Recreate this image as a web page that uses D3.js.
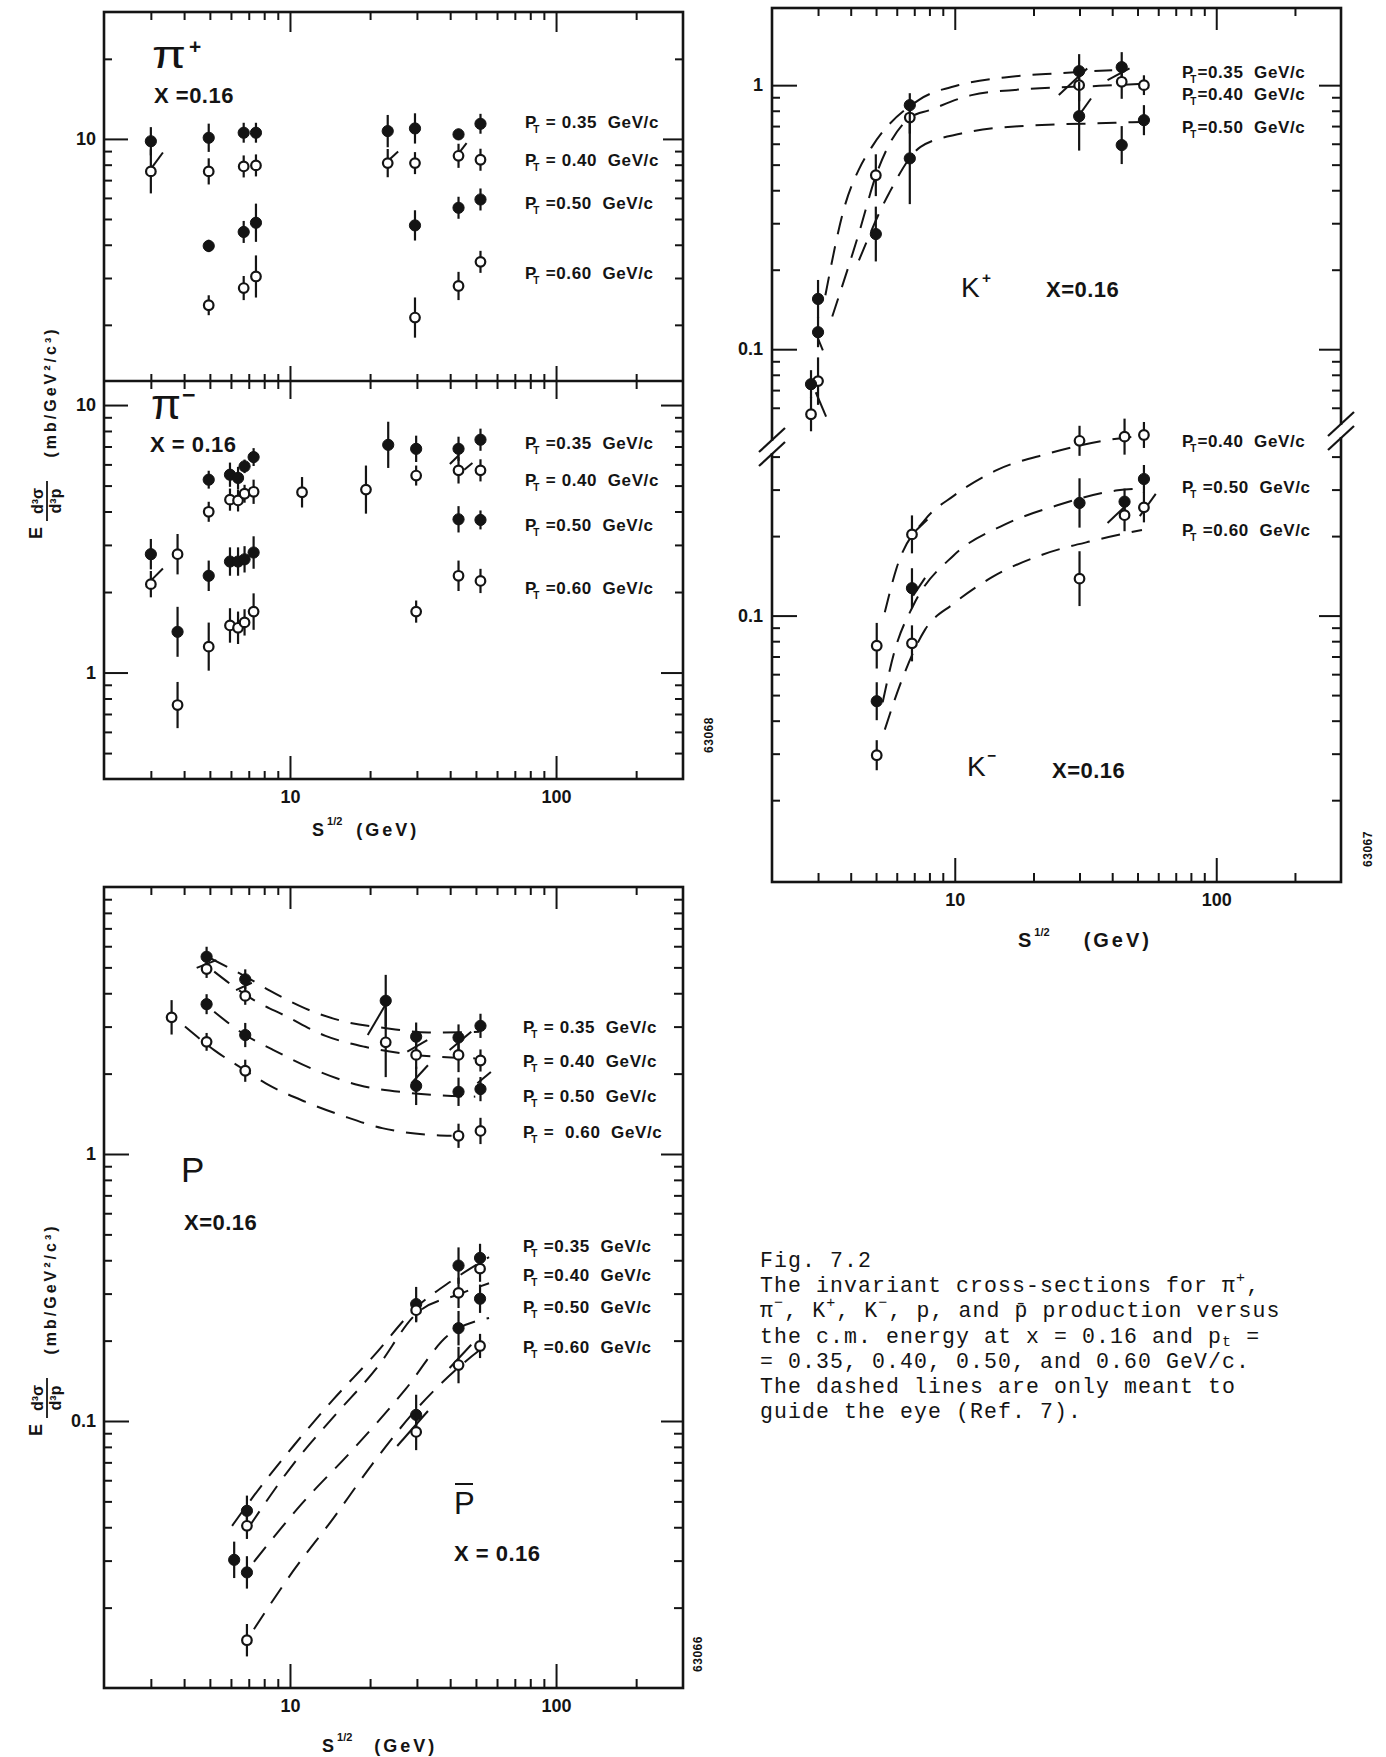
<!DOCTYPE html>
<html>
<head>
<meta charset="utf-8">
<script src="https://cdn.jsdelivr.net/npm/d3@7"></script>
<style>
  body { margin: 0; background: #fff; }
  svg { display: block; }
  text { font-family: "Liberation Sans", Arial, sans-serif; fill: #141414; white-space: pre; }
  text.cap { font-family: "Liberation Mono", "DejaVu Sans Mono", monospace; }
</style>
</head>
<body>
<svg id="fig" width="1386" height="1757"></svg>
<script>
// ---- data (s^1/2 in GeV, cross-section in mb/GeV^2/c^3) ----
const ptLabels = ["0.35", "0.40", "0.50", "0.60"];

// pi+
const pipS   = [3.0, 4.95, 6.7, 7.45, 23.3, 29.5, 43, 52];
const pipV35 = [9.8, 10.1, 10.55, 10.55, 10.7, 10.95, 10.4, 11.4];
const pipE35 = [0.13, 0.13, 0.09, 0.09, 0.15, 0.14, 0.05, 0.09];
const pipV40 = [7.55, 7.55, 7.88, 7.95, 8.11, 8.11, 8.64, 8.35];
const pipE40 = [0.21, 0.12, 0.10, 0.10, 0.13, 0.10, 0.11, 0.10];
const pipV50 = [null, 3.96, 4.47, 4.84, null, 4.73, 5.51, 5.92];
const pipE50 = [0, 0.055, 0.10, 0.18, 0, 0.14, 0.10, 0.10];
const pipV60 = [null, 2.37, 2.75, 3.04, null, 2.13, 2.80, 3.45];
const pipE60 = [0, 0.09, 0.11, 0.20, 0, 0.19, 0.13, 0.10];
const pipSl  = [[3.02, 7.78, 3.33, 8.89], [23.2, 8.23, 25.5, 8.97], [42.6, 8.71, 46.1, 9.64]];

// pi-
const pimS   = [3.0, 3.78, 4.95, 5.95, 6.38, 6.75, 7.3, 11.1, 19.3, 23.4, 29.8, 43, 52];
const pimV35 = [null, null, 5.26, 5.49, 5.34, 5.9, 6.39, null, null, 7.1, 6.86, 6.86, 7.42];
const pimE35 = [0, 0, 0.08, 0.11, 0.10, 0.06, 0.08, 0, 0, 0.22, 0.12, 0.11, 0.10];
const pimV40 = [2.14, 2.77, 3.99, 4.43, 4.40, 4.66, 4.74, 4.72, 4.83, null, 5.45, 5.70, 5.70];
const pimE40 = [0.12, 0.19, 0.09, 0.10, 0.10, 0.08, 0.11, 0.14, 0.23, 0, 0.09, 0.12, 0.10];
const pimV50 = [2.77, 1.42, 2.30, 2.60, 2.60, 2.65, 2.81, null, null, null, null, 3.74, 3.72];
const pimE50 = [0.14, 0.24, 0.14, 0.13, 0.13, 0.12, 0.15, 0, 0, 0, 0, 0.12, 0.085];
const pimV60 = [null, 0.756, 1.25, 1.50, 1.47, 1.54, 1.69, null, null, null, 1.69, 2.30, 2.20];
const pimE60 = [0, 0.22, 0.23, 0.16, 0.15, 0.12, 0.17, 0, 0, 0, 0.10, 0.14, 0.11];
const pimSl  = [[3.02, 2.22, 3.33, 2.45], [39.9, 6.02, 43.2, 6.51], [45.2, 5.73, 48.5, 6.07]];

// K+
const kpS   = [2.82, 3.0, 4.99, 6.73, 29.9, 43.5, 52.9];
const kpV35 = [null, 0.155, null, 0.84, 1.13, 1.17, null];
const kpE35 = [0, 0.18, 0, 0.11, 0.16, 0.14, 0];
const kpV40 = [0.0567, 0.0757, 0.456, 0.754, 1.0, 1.03, 1.0];
const kpE40 = [0.16, 0.23, 0.20, 0.15, 0.15, 0.16, 0.09];
const kpV50 = [0.0737, 0.116, 0.273, 0.528, 0.763, 0.593, 0.737];
const kpE50 = [0.13, 0.14, 0.27, 0.49, 0.35, 0.18, 0.14];
const kpC35 = [[3.2, 0.16], [3.8, 0.35], [4.3, 0.48], [4.8, 0.58], [7.3, 0.88], [10.3, 1.0], [15.5, 1.07], [25, 1.11], [40, 1.14]];
const kpC40 = [[3.4, 0.133], [4.3, 0.275], [5.0, 0.456], [6.75, 0.754], [8.0, 0.804], [11.6, 0.917], [17.8, 0.963], [35.7, 0.994], [51, 1.01]];
const kpC50 = [[4.3, 0.217], [5.6, 0.389], [7.4, 0.584], [10.6, 0.656], [17.5, 0.699], [41, 0.72], [52, 0.726]];
const kpSl  = [[25.0, 0.917, 32.1, 1.157], [38.4, 1.044, 46.6, 1.157], [29.9, 0.77, 33.2, 0.89],
               [2.94, 0.0687, 3.22, 0.0555], [2.94, 0.115, 3.13, 0.099]];

// K-
const kmS   = [5.03, 6.86, 30, 44.6, 52.9];
const kmV40 = [0.0769, 0.203, 0.459, 0.476, 0.483];
const kmE40 = [0.22, 0.18, 0.14, 0.17, 0.12];
const kmV50 = [0.0474, 0.127, 0.267, 0.270, 0.329];
const kmE50 = [0.18, 0.19, 0.24, 0.12, 0.13];
const kmV60 = [0.0296, 0.0785, 0.138, 0.240, 0.257];
const kmE60 = [0.14, 0.17, 0.27, 0.15, 0.14];
const kmC40 = [[5.4, 0.103], [6.0, 0.152], [7.7, 0.231], [9.9, 0.284], [14.6, 0.357], [22.4, 0.409], [37, 0.459], [52, 0.48]];
const kmC50 = [[5.3, 0.047], [5.9, 0.074], [6.93, 0.109], [9.9, 0.169], [15.5, 0.221], [24.5, 0.261], [42, 0.298], [52, 0.303]];
const kmC60 = [[5.4, 0.037], [6.23, 0.056], [7.7, 0.0885], [9.9, 0.111], [14.1, 0.141], [21.6, 0.17], [34.5, 0.193], [52, 0.211]];
const kmSl  = [[6.93, 0.205, 7.86, 0.231], [6.93, 0.119, 7.7, 0.139], [38.4, 0.224, 46.6, 0.269], [51, 0.238, 58.7, 0.289]];

// p
const pS   = [3.59, 4.86, 6.79, 22.9, 29.8, 43, 52];
const pV35 = [null, 5.48, 4.51, 3.75, 2.75, 2.73, 3.02];
const pE35 = [0, 0.09, 0.09, 0.25, 0.13, 0.12, 0.11];
const pV40 = [null, 4.93, 3.91, 2.62, 2.35, 2.35, 2.24];
const pE40 = [0, 0.08, 0.08, 0.35, 0.13, 0.16, 0.10];
const pV50 = [null, 3.64, 2.79, null, 1.80, 1.71, 1.75];
const pE50 = [0, 0.09, 0.11, 0, 0.18, 0.13, 0.11];
const pV60 = [3.25, 2.63, 2.05, null, null, 1.17, 1.22];
const pE60 = [0.16, 0.08, 0.10, 0, 0, 0.11, 0.12];
const pC35 = [[5.02, 5.41], [6.83, 4.61], [8.4, 4.09], [11.4, 3.51], [16.1, 3.13], [23, 2.96], [33.1, 2.85], [51.5, 2.87]];
const pC40 = [[5.19, 4.82], [7.32, 3.77], [9.62, 3.29], [13.6, 2.77], [19.1, 2.52], [29.7, 2.35], [49.7, 2.28]];
const pC50 = [[5.19, 3.41], [6.79, 2.79], [8.54, 2.47], [12.2, 2.08], [18.2, 1.81], [27.2, 1.70], [35.8, 1.66], [49.7, 1.64]];
const pC60 = [[4.03, 3.0], [5.19, 2.45], [6.83, 2.05], [8.11, 1.84], [11.4, 1.57], [15.8, 1.39], [22.2, 1.25], [33.6, 1.18], [40.5, 1.17]];
const pSl  = [[4.46, 4.98, 5.29, 5.32], [6.27, 4.11, 7.19, 4.38], [19.6, 2.79, 23.4, 3.77], [27.6, 2.42, 32.8, 2.67],
              [28.6, 1.84, 33.0, 2.15], [39.8, 2.45, 48.0, 2.87], [50.6, 1.84, 56.9, 2.03]];

// p-bar
const pbS   = [6.17, 6.89, 29.8, 43, 51.8];
const pbV35 = [null, 0.0461, 0.274, 0.382, 0.408];
const pbE35 = [0, 0.14, 0.16, 0.17, 0.13];
const pbV40 = [null, 0.0405, 0.260, 0.302, 0.372];
const pbE40 = [0, 0.12, 0.11, 0.14, 0.12];
const pbV50 = [0.0302, 0.0271, 0.1054, 0.2227, 0.287];
const pbE50 = [0.17, 0.15, 0.19, 0.16, 0.13];
const pbV60 = [null, 0.0151, 0.091, 0.162, 0.191];
const pbE60 = [0, 0.15, 0.17, 0.17, 0.11];
const pbC35 = [[6.06, 0.0405], [7.32, 0.0525], [10.3, 0.0806], [14.5, 0.120], [20.4, 0.173], [29.8, 0.266], [40.5, 0.335], [56, 0.411]];
const pbC40 = [[7.0, 0.040], [10.3, 0.069], [14.5, 0.103], [21.2, 0.158], [29.8, 0.252], [43.4, 0.299], [56, 0.328]];
const pbC50 = [[7.32, 0.0297], [11.0, 0.0486], [17.2, 0.078], [27.2, 0.1316], [39.0, 0.208], [56, 0.243]];
const pbC60 = [[7.32, 0.0166], [10.3, 0.0275], [14.5, 0.043], [20.4, 0.069], [30.8, 0.1145], [43.4, 0.160], [56, 0.196]];
const pbSl  = [[25.3, 0.0806, 33.0, 0.109], [39.8, 0.158, 48.0, 0.193]];

const captionLines = [
  [["Fig. 7.2"]],
  [["The invariant cross-sections for π"], ["+", "sup"], [","]],
  [["π"], ["−", "sup"], [", K"], ["+", "sup"], [", K"], ["−", "sup"], [", p, and p̄ production versus"]],
  [["the c.m. energy at x = 0.16 and p"], ["t", "sub"], [" ="]],
  [["= 0.35, 0.40, 0.50, and 0.60 GeV/c."]],
  [["The dashed lines are only meant to"]],
  [["guide the eye (Ref. 7)."]]
];

// ---- drawing ----
const ink = "#141414";
const svg = d3.select("#fig");

// scales
const piX  = d3.scaleLog().domain([2, 300]).range([104, 683]);
const pipY = d3.scaleLog().domain([1.23, 30]).range([381, 12]);
const pimY = d3.scaleLog().domain([0.4, 12.3]).range([779, 381]);
const kX   = d3.scaleLog().domain([2, 300]).range([772, 1341]);
const kpY  = d3.scaleLog().domain([0.049, 1.96]).range([431, 8]);
const kmY  = d3.scaleLog().domain([0.0098, 0.5]).range([882, 431]);
const pX   = d3.scaleLog().domain([2, 300]).range([104, 683]);
const pY   = d3.scaleLog().domain([0.01, 10]).range([1688, 887]);

const gens = { top: d3.axisTop, bottom: d3.axisBottom, left: d3.axisLeft, right: d3.axisRight };

function tickSets(scale) {
  const r = scale.range(), lo = Math.min(r[0], r[1]), hi = Math.max(r[0], r[1]);
  const vals = scale.ticks().filter(v => scale(v) > lo + 3 && scale(v) < hi - 3);
  const isMaj = v => Math.abs(Math.log10(v) - Math.round(Math.log10(v))) < 1e-6;
  return { maj: vals.filter(isMaj), min: vals.filter(v => !isMaj(v)) };
}

// inward ticks on one side of a frame
function ticks(scale, orient, tx, ty, minLen, majLen) {
  const sets = tickSets(scale);
  [[sets.min, minLen], [sets.maj, majLen]].forEach(([vals, len]) => {
    const a = svg.append("g").attr("transform", `translate(${tx},${ty})`)
      .call(gens[orient](scale).tickValues(vals).tickSize(-len).tickFormat(""));
    a.select(".domain").remove();
    a.selectAll("text").remove();
    a.selectAll("line").attr("stroke", ink).attr("stroke-width", 2);
  });
}

function labels(scale, orient, tx, ty, vals, pad) {
  const a = svg.append("g").attr("transform", `translate(${tx},${ty})`)
    .call(gens[orient](scale).tickValues(vals).tickSize(0).tickPadding(pad).tickFormat(d => String(+d.toPrecision(3))));
  a.select(".domain").remove();
  a.selectAll("text").attr("font-size", 18).attr("font-weight", "bold").attr("fill", ink);
}

function frame(x0, x1, y0, y1) {
  svg.append("rect").attr("x", x0).attr("y", y0).attr("width", x1 - x0).attr("height", y1 - y0)
    .attr("fill", "none").attr("stroke", ink).attr("stroke-width", 2.6);
}

function guide(x, y, pts) {
  svg.append("path").datum(pts)
    .attr("d", d3.line().x(d => x(d[0])).y(d => y(d[1])).curve(d3.curveMonotoneX))
    .attr("fill", "none").attr("stroke", ink).attr("stroke-width", 2).attr("stroke-dasharray", "19 12");
}

function slashes(x, y, list) {
  svg.append("g").selectAll("line").data(list).join("line")
    .attr("x1", d => x(d[0])).attr("y1", d => y(d[1]))
    .attr("x2", d => x(d[2])).attr("y2", d => y(d[3]))
    .attr("stroke", ink).attr("stroke-width", 2);
}

function series(x, y, xs, vs, es, filled) {
  const pts = xs.map((s, i) => ({ s, v: vs[i], e: es[i] })).filter(d => d.v != null);
  const g = svg.append("g");
  g.selectAll("line").data(pts).join("line")
    .attr("x1", d => x(d.s)).attr("x2", d => x(d.s))
    .attr("y1", d => y(d.v * (1 + d.e))).attr("y2", d => y(d.v / (1 + d.e)))
    .attr("stroke", ink).attr("stroke-width", 2.2);
  g.selectAll("circle").data(pts).join("circle")
    .attr("cx", d => x(d.s)).attr("cy", d => y(d.v))
    .attr("r", filled ? 5.6 : 4.8)
    .attr("fill", filled ? ink : "#fff")
    .attr("stroke", ink).attr("stroke-width", filled ? 1 : 2.2);
}

function legend(x, y, pt, sep) {
  const t = svg.append("text").attr("x", x).attr("y", y).attr("font-size", 17).attr("font-weight", "bold");
  t.append("tspan").text("P");
  t.append("tspan").attr("font-size", 10).attr("dx", -3).attr("dy", 5).text("T");
  t.append("tspan").attr("dy", -5).attr("dx", 1).attr("letter-spacing", 0.6).text(sep + pt + "  GeV/c");
}

function label(x, y, main, sup, size, supDx, supDy, stretch) {
  const t = svg.append("text").attr("x", x).attr("y", y).attr("font-size", size);
  if (stretch) t.attr("textLength", stretch).attr("lengthAdjust", "spacingAndGlyphs");
  t.text(main);
  if (sup) svg.append("text").attr("x", x + supDx).attr("y", y + supDy)
    .attr("font-size", size * 0.55).attr("font-weight", "bold").text(sup);
}

function xval(x, y, txt) {
  svg.append("text").attr("x", x).attr("y", y).attr("font-size", 22).attr("font-weight", "bold")
    .attr("letter-spacing", 0.5).text(txt);
}

function xTitle(x, y, size, gap) {
  const t = svg.append("text").attr("x", x).attr("y", y).attr("font-size", size).attr("font-weight", "bold");
  t.append("tspan").text("S");
  t.append("tspan").attr("font-size", 11).attr("dx", 3).attr("dy", -11).text("1/2");
  t.append("tspan").attr("dy", 11).attr("dx", gap).attr("letter-spacing", 3).text("(GeV)");
}

function yTitle(cx, cy) {
  const g = svg.append("g").attr("transform", `translate(${cx},${cy}) rotate(-90)`);
  g.append("text").attr("x", -103).attr("y", -4).attr("text-anchor", "middle")
    .attr("font-size", 18).attr("font-weight", "bold").text("E");
  g.append("text").attr("x", -71).attr("y", -3).attr("text-anchor", "middle")
    .attr("font-size", 16).attr("font-weight", "bold").text("d³σ");
  g.append("line").attr("x1", -91).attr("x2", -51).attr("y1", 1).attr("y2", 1)
    .attr("stroke", ink).attr("stroke-width", 1.8);
  g.append("text").attr("x", -71).attr("y", 15).attr("text-anchor", "middle")
    .attr("font-size", 16).attr("font-weight", "bold").text("d³p");
  g.append("text").attr("x", 38).attr("y", 10).attr("text-anchor", "middle")
    .attr("font-size", 16).attr("font-weight", "bold").attr("letter-spacing", 3).text("(mb/GeV²/c³)");
}

function figId(x, y, txt) {
  svg.append("text").attr("transform", `translate(${x},${y}) rotate(-90)`).attr("text-anchor", "middle")
    .attr("font-size", 12).attr("font-weight", "bold").attr("letter-spacing", 0.5).text(txt);
}

// ===== pi panel =====
frame(104, 683, 12, 779);
svg.append("line").attr("x1", 104).attr("x2", 683).attr("y1", 381).attr("y2", 381)
  .attr("stroke", ink).attr("stroke-width", 2.6);
ticks(piX, "top", 0, 12, 8, 20);
ticks(piX, "bottom", 0, 381, 7, 15);
ticks(piX, "top", 0, 381, 8, 18);
ticks(piX, "bottom", 0, 779, 8, 23);
ticks(pipY, "left", 104, 0, 8, 24);
ticks(pipY, "right", 683, 0, 8, 20);
ticks(pimY, "left", 104, 0, 8, 24);
ticks(pimY, "right", 683, 0, 8, 22);
labels(pipY, "left", 104, 0, [10], 8);
labels(pimY, "left", 104, 0, [10, 1], 8);
labels(piX, "bottom", 0, 779, [10, 100], 11);

slashes(piX, pipY, pipSl);
series(piX, pipY, pipS, pipV35, pipE35, true);
series(piX, pipY, pipS, pipV40, pipE40, false);
series(piX, pipY, pipS, pipV50, pipE50, true);
series(piX, pipY, pipS, pipV60, pipE60, false);
slashes(piX, pimY, pimSl);
series(piX, pimY, pimS, pimV35, pimE35, true);
series(piX, pimY, pimS, pimV40, pimE40, false);
series(piX, pimY, pimS, pimV50, pimE50, true);
series(piX, pimY, pimS, pimV60, pimE60, false);

[128, 166, 209, 279].forEach((y, i) => legend(525, y, ptLabels[i], i < 2 ? " = " : " ="));
[449, 486, 531, 594].forEach((y, i) => legend(525, y, ptLabels[i], i === 1 ? " = " : " ="));

label(152, 68, "π", "+", 38, 37, -14, 34);
label(151, 419, "π", "−", 42, 31, -16, 30);
xval(154, 103, "X =0.16");
xval(150, 452, "X = 0.16");
xTitle(312, 836, 18, 14);
yTitle(46, 430);
figId(713, 735, "63068");

// ===== K panel =====
frame(772, 1341, 8, 882);
ticks(kX, "top", 0, 8, 8, 22);
ticks(kX, "bottom", 0, 882, 9, 24);
ticks(kpY, "left", 772, 0, 8, 25);
ticks(kpY, "right", 1341, 0, 9, 22);
ticks(kmY, "left", 772, 0, 8, 25);
ticks(kmY, "right", 1341, 0, 9, 22);
labels(kpY, "left", 772, 0, [1, 0.1], 9);
labels(kmY, "left", 772, 0, [0.1], 9);
labels(kX, "bottom", 0, 882, [10, 100], 11);

// axis breaks
[[772, kpY.range()[0] + 16], [1341, kpY.range()[0]]].forEach(([bx, by]) => {
  svg.append("rect").attr("x", bx - 3).attr("y", by - 6).attr("width", 6).attr("height", 12).attr("fill", "#fff");
  [-7, 7].forEach(off => svg.append("line")
    .attr("x1", bx - 13).attr("y1", by + off + 12).attr("x2", bx + 13).attr("y2", by + off - 12)
    .attr("stroke", ink).attr("stroke-width", 2.2));
});

guide(kX, kpY, kpC35);
guide(kX, kpY, kpC40);
guide(kX, kpY, kpC50);
slashes(kX, kpY, kpSl);
series(kX, kpY, kpS, kpV35, kpE35, true);
series(kX, kpY, kpS, kpV40, kpE40, false);
series(kX, kpY, kpS, kpV50, kpE50, true);

guide(kX, kmY, kmC40);
guide(kX, kmY, kmC50);
guide(kX, kmY, kmC60);
slashes(kX, kmY, kmSl);
series(kX, kmY, kmS, kmV40, kmE40, false);
series(kX, kmY, kmS, kmV50, kmE50, true);
series(kX, kmY, kmS, kmV60, kmE60, false);

[78, 100, 133].forEach((y, i) => legend(1182, y, ptLabels[i], "="));
[447, 493, 536].forEach((y, i) => legend(1182, y, ptLabels[i + 1], i === 0 ? "=" : " ="));

label(961, 297, "K", "+", 28, 21, -14);
label(967, 776, "K", "−", 28, 20, -15);
xval(1046, 297, "X=0.16");
xval(1052, 778, "X=0.16");
xTitle(1018, 947, 20, 34);
figId(1372, 849, "63067");

// ===== p / p-bar panel =====
frame(104, 683, 887, 1688);
ticks(pX, "top", 0, 887, 8, 22);
ticks(pX, "bottom", 0, 1688, 9, 24);
ticks(pY, "left", 104, 0, 8, 25);
ticks(pY, "right", 683, 0, 9, 22);
labels(pY, "left", 104, 0, [1, 0.1], 8);
labels(pX, "bottom", 0, 1688, [10, 100], 11);

guide(pX, pY, pC35);
guide(pX, pY, pC40);
guide(pX, pY, pC50);
guide(pX, pY, pC60);
slashes(pX, pY, pSl);
series(pX, pY, pS, pV35, pE35, true);
series(pX, pY, pS, pV40, pE40, false);
series(pX, pY, pS, pV50, pE50, true);
series(pX, pY, pS, pV60, pE60, false);

guide(pX, pY, pbC35);
guide(pX, pY, pbC40);
guide(pX, pY, pbC50);
guide(pX, pY, pbC60);
slashes(pX, pY, pbSl);
series(pX, pY, pbS, pbV35, pbE35, true);
series(pX, pY, pbS, pbV40, pbE40, false);
series(pX, pY, pbS, pbV50, pbE50, true);
series(pX, pY, pbS, pbV60, pbE60, false);

[1033, 1067, 1102, 1138].forEach((y, i) => legend(523, y, ptLabels[i], i === 3 ? " =  " : " = "));
[1252, 1281, 1313, 1353].forEach((y, i) => legend(523, y, ptLabels[i], " ="));

label(181, 1182, "P", null, 35);
xval(184, 1230, "X=0.16");
svg.append("text").attr("x", 454).attr("y", 1514).attr("font-size", 31).text("P");
svg.append("line").attr("x1", 455).attr("x2", 473).attr("y1", 1484).attr("y2", 1484)
  .attr("stroke", ink).attr("stroke-width", 2);
xval(454, 1561, "X = 0.16");
xTitle(322, 1752, 18, 22);
yTitle(46, 1327);
figId(702, 1654, "63066");

// ===== caption =====
captionLines.forEach((segs, i) => {
  const t = svg.append("text").attr("class", "cap").attr("x", 760).attr("y", 1267 + i * 25.2)
    .attr("font-size", 21.5).attr("letter-spacing", 1.1);
  let shift = 0;
  segs.forEach(([txt, kind]) => {
    const want = kind === "sup" ? -10 : kind === "sub" ? 3 : 0;
    const sp = t.append("tspan").text(txt).attr("dy", want - shift);
    if (kind === "sup") sp.attr("font-size", 15);
    if (kind === "sub") sp.attr("font-size", 15);
    shift = want;
  });
});
</script>
</body>
</html>
